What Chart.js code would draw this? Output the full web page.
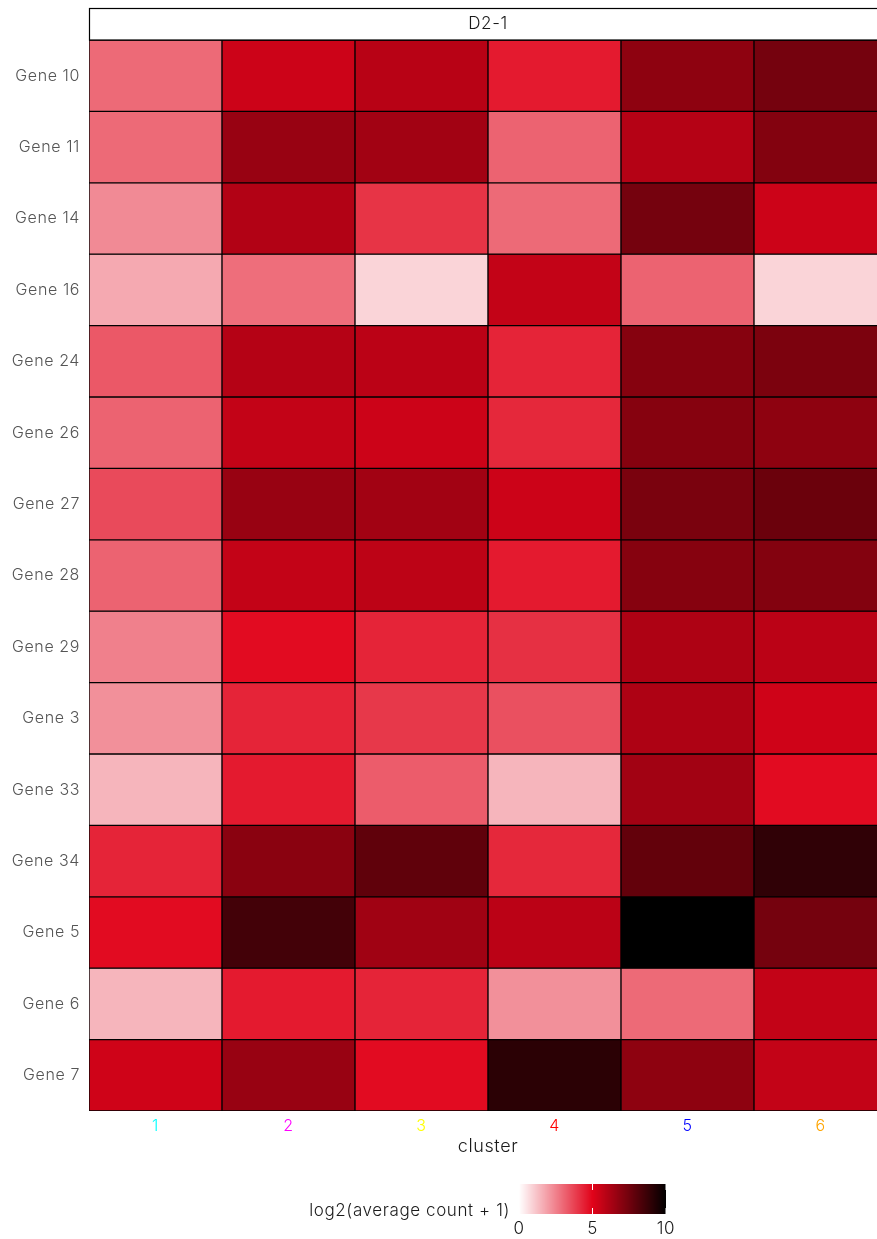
<!DOCTYPE html>
<html>
<head>
<meta charset="utf-8">
<title>D2-1 expression heatmap</title>
<script src="https://cdn.jsdelivr.net/npm/chart.js@4.4.1/dist/chart.umd.min.js"></script>
<style>
  html, body { margin: 0; padding: 0; background: #ffffff; overflow: hidden; }
  #wrap { width: 900px; height: 1239px; }
</style>
</head>
<body>
<div id="wrap"><canvas id="heat" width="900" height="1239"></canvas></div>
<script>
// Rows (top to bottom) and columns of the heatmap
const genes = ['Gene 10', 'Gene 11', 'Gene 14', 'Gene 16', 'Gene 24', 'Gene 26', 'Gene 27',
               'Gene 28', 'Gene 29', 'Gene 3', 'Gene 33', 'Gene 34', 'Gene 5', 'Gene 6', 'Gene 7'];
const clusters = ['1', '2', '3', '4', '5', '6'];
const clusterColors = ['#00FFFF', '#FF00FF', '#FFFF00', '#FF0000', '#0000FF', '#FFA500'];

// log2(average count + 1), one row per gene, columns = clusters 1..6
const log2Expr = [
  [2.96, 5.47, 5.91, 4.54, 6.84, 7.40], // Gene 10
  [2.96, 6.62, 6.40, 3.10, 5.98, 7.09], // Gene 11
  [2.32, 6.04, 4.03, 2.96, 7.40, 5.47], // Gene 14
  [1.71, 2.88, 0.85, 5.67, 3.10, 0.85], // Gene 16
  [3.31, 5.98, 5.84, 4.35, 7.02, 7.24], // Gene 24
  [3.10, 5.67, 5.47, 4.27, 7.02, 6.84], // Gene 26
  [3.59, 6.62, 6.40, 5.47, 7.29, 7.62], // Gene 27
  [3.10, 5.67, 5.80, 4.54, 7.02, 7.09], // Gene 28
  [2.52, 4.85, 4.35, 4.10, 6.13, 5.84], // Gene 29
  [2.20, 4.35, 3.95, 3.47, 6.13, 5.40], // Gene 3
  [1.47, 4.54, 3.23, 1.47, 6.40, 4.85], // Gene 33
  [4.35, 6.93, 7.87, 4.27, 7.80, 8.93], // Gene 34
  [4.85, 8.51, 6.44, 5.84, 10.0, 7.40], // Gene 5
  [1.47, 4.54, 4.35, 2.20, 2.96, 5.67], // Gene 6
  [5.40, 6.62, 4.85, 9.04, 6.84, 5.67]  // Gene 7
];

const legendTicks = [0, 5, 10];
const scaleMin = 0, scaleMid = 5, scaleMax = 10;

// white -> red -> black ramp, linear in RGB
const lowRGB = [255, 255, 255], midRGB = [225, 3, 26], highRGB = [0, 0, 0];
function fillFor(v) {
  v = Math.max(scaleMin, Math.min(scaleMax, v));
  let a, b, t;
  if (v <= scaleMid) { a = lowRGB; b = midRGB; t = (v - scaleMin) / (scaleMid - scaleMin); }
  else { a = midRGB; b = highRGB; t = (v - scaleMid) / (scaleMax - scaleMid); }
  const c = a.map((x, i) => Math.round(x + (b[i] - x) * t));
  return 'rgb(' + c.join(',') + ')';
}

const FONT = "Inter, 'DejaVu Sans', sans-serif";
const TEXT_W = '300';

// slightly open tracking for every label on the canvas
const tracking = {
  id: 'tracking',
  beforeDraw(chart) { chart.ctx.letterSpacing = '0.6px'; }
};

// Facet strip, x-axis title and colour bar legend
const decorations = {
  id: 'decorations',
  afterDraw(chart) {
    const ctx = chart.ctx, area = chart.chartArea;
    ctx.save();
    ctx.letterSpacing = '0.6px';
    // facet strip
    ctx.fillStyle = '#ffffff';
    ctx.fillRect(area.left, 8, area.right - area.left, area.top - 8);
    ctx.strokeStyle = '#000000';
    ctx.lineWidth = 1.2;
    ctx.strokeRect(area.left + 0.5, 8.5, area.right - area.left, area.top - 8.5);
    ctx.fillStyle = '#1a1a1a';
    ctx.font = TEXT_W + ' 17px ' + FONT;
    ctx.textAlign = 'center';
    ctx.textBaseline = 'middle';
    ctx.fillText('D2-1', (area.left + area.right) / 2, 24);

    // x-axis title
    ctx.font = TEXT_W + ' 18px ' + FONT;
    ctx.fillStyle = '#1a1a1a';
    ctx.fillText('cluster', (area.left + area.right) / 2, 1147);

    // colour bar
    const barL = 519, barR = 666, barT = 1184, barB = 1214;
    for (let x = barL; x < barR; x++) {
      const v = scaleMin + (x + 0.5 - barL) / (barR - barL) * (scaleMax - scaleMin);
      ctx.fillStyle = fillFor(v);
      ctx.fillRect(x, barT, 1, barB - barT);
    }
    ctx.strokeStyle = '#ffffff';
    ctx.lineWidth = 1;
    legendTicks.forEach(t => {
      const x = barL + (t - scaleMin) / (scaleMax - scaleMin) * (barR - barL);
      const tl = (barB - barT) / 5;
      ctx.beginPath();
      ctx.moveTo(x, barT); ctx.lineTo(x, barT + tl);
      ctx.moveTo(x, barB - tl); ctx.lineTo(x, barB);
      ctx.stroke();
    });
    ctx.fillStyle = '#1a1a1a';
    ctx.font = TEXT_W + ' 17px ' + FONT;
    ctx.textBaseline = 'middle';
    legendTicks.forEach(t => {
      const x = barL + (t - scaleMin) / (scaleMax - scaleMin) * (barR - barL);
      ctx.textAlign = 'center';
      ctx.fillText(String(t), x, 1229);
    });
    ctx.textAlign = 'right';
    ctx.fillText('log2(average count + 1)', 510, 1211);
    ctx.restore();
  }
};

new Chart(document.getElementById('heat'), {
  type: 'bar',
  data: {
    labels: clusters,
    datasets: genes.map((g, r) => ({
      label: g,
      data: clusters.map(() => [r, r + 1]),
      backgroundColor: log2Expr[r].map(fillFor),
      borderColor: '#000000',
      borderWidth: 1,
      borderSkipped: false,
      categoryPercentage: 1.0,
      barPercentage: 1.0
    }))
  },
  options: {
    responsive: false,
    animation: false,
    events: [],
    layout: { padding: { top: 40, right: 13, left: 0, bottom: 0 } },
    plugins: { legend: { display: false }, tooltip: { enabled: false }, title: { display: false } },
    scales: {
      x: {
        type: 'category',
        stacked: true,
        grid: { display: false, drawTicks: false },
        border: { display: false },
        ticks: {
          padding: 6,
          font: { family: FONT, size: 16, weight: TEXT_W },
          color: ctx => clusterColors[ctx.index]
        },
        afterFit(scale) { scale.height = 128; }
      },
      y: {
        type: 'linear',
        min: 0,
        max: genes.length,
        reverse: true,
        stacked: false,
        grid: { display: false, drawTicks: false },
        border: { display: false },
        afterBuildTicks(scale) { scale.ticks = genes.map((_, i) => ({ value: i + 0.5 })); },
        ticks: {
          padding: 9,
          font: { family: FONT, size: 16, weight: TEXT_W },
          color: '#555555',
          callback: v => genes[Math.floor(v)]
        },
        afterFit(scale) { scale.width = 89; }
      }
    }
  },
  plugins: [tracking, decorations]
});
</script>
</body>
</html>
